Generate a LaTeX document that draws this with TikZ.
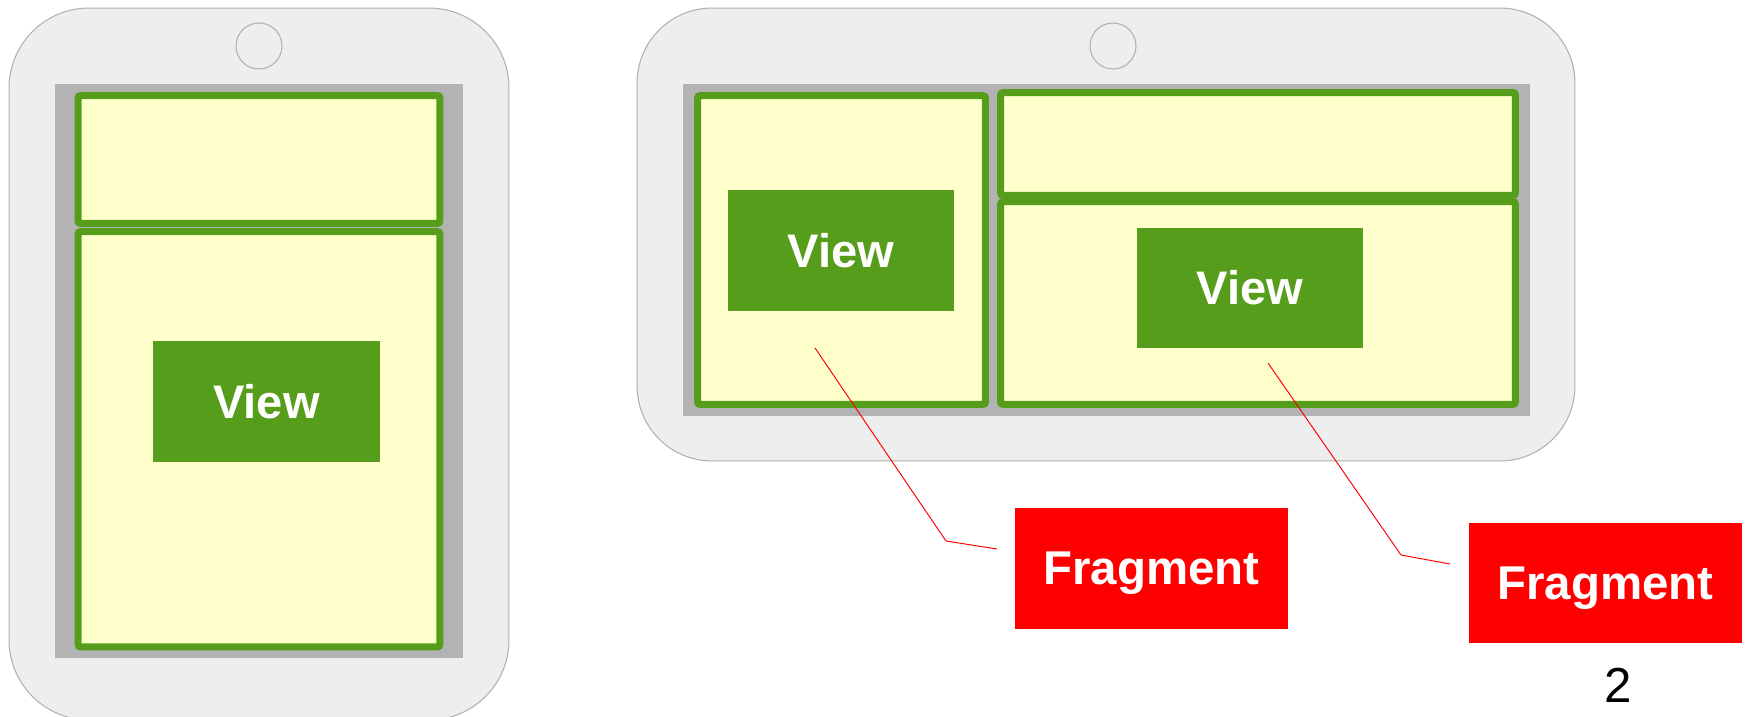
\documentclass[tikz,border=0pt]{standalone}
\usepackage{fontspec}
\setmainfont{Liberation Sans}
\usetikzlibrary{positioning}
\definecolor{PhoneGray}{HTML}{EEEEEE}
\definecolor{PhoneEdge}{HTML}{B5B0AA}
\definecolor{ScreenGray}{HTML}{B3B3B3}
\definecolor{PaneGreen}{HTML}{579D1C}
\definecolor{PaneYellow}{HTML}{FFFFCC}
\definecolor{FragRed}{HTML}{FF0000}
\tikzset{
  phonebox/.style={rectangle, rounded corners=#1, draw=PhoneEdge, fill=PhoneGray,
                   line width=0.6pt, inner sep=0pt},
  cambox/.style={circle, draw=PhoneEdge, fill=PhoneGray, line width=0.6pt,
                 minimum size=0.92cm, inner sep=0pt},
  screenbox/.style={rectangle, fill=ScreenGray, inner sep=0pt},
  panebox/.style={rectangle, rounded corners=1.5pt, draw=PaneGreen, fill=PaneYellow,
                  line width=0.14cm, inner sep=0pt},
  viewbox/.style={rectangle, fill=PaneGreen, minimum width=4.53cm, minimum height=2.42cm,
                  font=\fontsize{26.8}{30}\selectfont\bfseries, text=white, inner sep=0pt},
  fragbox/.style={rectangle, fill=FragRed, minimum width=5.46cm, minimum height=2.42cm,
                  font=\fontsize{27}{30}\selectfont\bfseries, text=white, inner sep=0pt,
                  text depth=0pt},
  lead/.style={draw=FragRed, line width=0.55pt},
}

\begin{document}
\begin{tikzpicture}[x=0.02cm, y=-0.02cm]
  \useasboundingbox (0,0) rectangle (1746,716);

  % portrait phone
  \node[phonebox=1.6cm, minimum width=10cm, minimum height=14.24cm] (phoneA) at (259,364) {};
  \node[cambox] (camA) at (259,46) {};
  \node[screenbox, minimum width=8.16cm, minimum height=11.48cm] (scrA) at (259,371) {};
  \node[panebox, minimum width=7.24cm, minimum height=2.56cm] (topA) at (259,159.5) {};
  \node[panebox, minimum width=7.24cm, minimum height=8.31cm] (botA) at (259,439.25) {};
  \node[viewbox] (viewA) at (266.5,401.5) {View};

  % landscape phone
  \node[phonebox=1.5cm, minimum width=18.76cm, minimum height=9.06cm] (phoneB) at (1106,234.5) {};
  \node[cambox] (camB) at (1113,46) {};
  \node[screenbox, minimum width=16.94cm, minimum height=6.64cm] (scrB) at (1106.5,250) {};
  \node[panebox, minimum width=5.76cm, minimum height=6.18cm] (leftB) at (841.5,250) {};
  \node[panebox, minimum width=10.3cm, minimum height=2.06cm] (topB) at (1258,144) {};
  \node[panebox, minimum width=10.3cm, minimum height=4.06cm] (botB) at (1258,303) {};
  \node[viewbox] (viewB) at (841,250.5) {View};
  \node[viewbox] (viewC) at (1250,288) {View};

  % fragment labels
  \node[fragbox] (fragB) at (1151.5,568.5) {Fragment};
  \node[fragbox] (fragC) at (1605.5,583) {Fragment};
  \node[font=\fontsize{28}{30}\selectfont] (num) at (1618,685) {2};

  % leaders
  \coordinate (pB) at (815,348);
  \coordinate (kB) at (946,541);
  \coordinate (eB) at (997,549);
  \coordinate (pC) at (1268,363);
  \coordinate (kC) at (1401,555);
  \coordinate (eC) at (1450,564);
  \draw[lead] (pB) -- (kB) -- (eB);
  \draw[lead] (pC) -- (kC) -- (eC);
\end{tikzpicture}
\end{document}
